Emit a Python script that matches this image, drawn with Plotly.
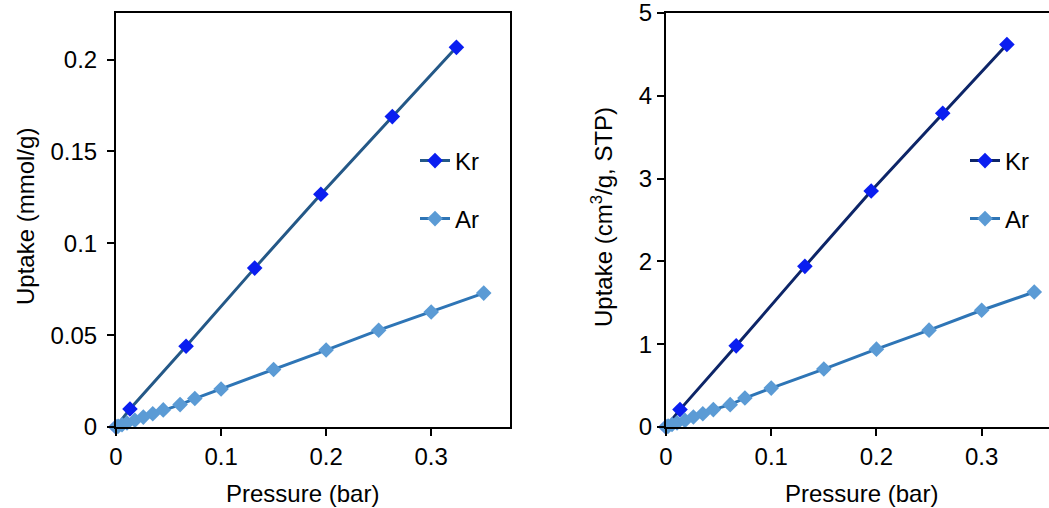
import plotly.graph_objects as go

# ---- data ----
kr_p = [0.0, 0.0133, 0.0667, 0.132, 0.195, 0.263, 0.324]
kr_mmol = [0.0, 0.0098, 0.0440, 0.0865, 0.1267, 0.1690, 0.2067]
ar_p = [0.0, 0.002, 0.0057, 0.0105, 0.018, 0.026, 0.035, 0.045, 0.061, 0.075,
        0.1, 0.15, 0.2, 0.25, 0.3, 0.35]
ar_mmol = [0.0, 0.0004, 0.0012, 0.0022, 0.0037, 0.0054, 0.0072, 0.0093, 0.0122,
           0.0155, 0.0207, 0.0313, 0.0419, 0.0527, 0.0626, 0.0729]
kr_cm3 = [0.0, 0.21, 0.98, 1.94, 2.85, 3.79, 4.62]
ar_cm3 = [0.0, 0.01, 0.03, 0.05, 0.08, 0.12, 0.16, 0.21, 0.27, 0.35,
          0.47, 0.70, 0.94, 1.17, 1.41, 1.63]

x_ticks = [0, 0.1, 0.2, 0.3]
x_ticklabels = ["0", "0.1", "0.2", "0.3"]
y1_ticks = [0, 0.05, 0.1, 0.15, 0.2]
y1_ticklabels = ["0", "0.05", "0.1", "0.15", "0.2"]
y2_ticks = [0, 1, 2, 3, 4, 5]
y2_ticklabels = ["0", "1", "2", "3", "4", "5"]

FONT = "Liberation Sans, Arial, sans-serif"
FS = 24
KR_MARK = "#0A1EF0"
KR_LINE1 = "#245887"
KR_LINE2 = "#0D2568"
AR_LINE = "#2E75B6"
AR_MARK = "#5B9BD5"

fig = go.Figure()
fig.add_trace(go.Scatter(x=kr_p, y=kr_mmol, name="Kr", mode="lines+markers",
                         line=dict(color=KR_LINE1, width=3),
                         marker=dict(symbol="diamond", size=12, color=KR_MARK),
                         cliponaxis=False, xaxis="x", yaxis="y", legend="legend"))
fig.add_trace(go.Scatter(x=ar_p, y=ar_mmol, name="Ar", mode="lines+markers",
                         line=dict(color=AR_LINE, width=3),
                         marker=dict(symbol="diamond", size=12, color=AR_MARK),
                         cliponaxis=False, xaxis="x", yaxis="y", legend="legend2"))
fig.add_trace(go.Scatter(x=kr_p, y=kr_cm3, name="Kr", mode="lines+markers",
                         line=dict(color=KR_LINE2, width=3),
                         marker=dict(symbol="diamond", size=12, color=KR_MARK),
                         cliponaxis=False, xaxis="x2", yaxis="y2", legend="legend3"))
fig.add_trace(go.Scatter(x=ar_p, y=ar_cm3, name="Ar", mode="lines+markers",
                         line=dict(color=AR_LINE, width=3),
                         marker=dict(symbol="diamond", size=12, color=AR_MARK),
                         cliponaxis=False, xaxis="x2", yaxis="y2", legend="legend4"))

W, H = 1049, 508
def px(x):
    return x / W
def py(y):
    return (H - y) / H

ydom = [py(427), py(13)]
axis_common = dict(showgrid=False, zeroline=False, showline=True, linecolor="black",
                   linewidth=2, ticks="outside", ticklen=7, tickwidth=2, tickcolor="black",
                   automargin=False, ticklabeloverflow="allow",
                   tickfont=dict(family=FONT, size=FS, color="black"))

legend_common = dict(font=dict(family=FONT, size=FS, color="black"),
                     bgcolor="rgba(0,0,0,0)", xanchor="left", yanchor="middle",
                     itemwidth=30)

fig.update_layout(
    width=W, height=H, margin=dict(l=0, r=0, t=0, b=0, pad=0, autoexpand=False),
    paper_bgcolor="white", plot_bgcolor="white", showlegend=True,
    xaxis=dict(domain=[px(116), px(510)], range=[0, 0.375], tickvals=x_ticks,
               ticktext=x_ticklabels, mirror=True, anchor="y", **axis_common),
    yaxis=dict(domain=ydom, range=[0, 0.2254], tickvals=y1_ticks,
               ticktext=y1_ticklabels, mirror=True, anchor="x",
               ticklabelstandoff=5, **axis_common),
    xaxis2=dict(domain=[px(666), 1.0], range=[0, 0.364], tickvals=x_ticks,
                ticktext=x_ticklabels, mirror=True, anchor="y2", **axis_common),
    yaxis2=dict(domain=ydom, range=[0, 5.0001], tickvals=y2_ticks,
                ticktext=y2_ticklabels, mirror=False, anchor="x2", **axis_common),
    legend=dict(x=px(415), y=py(161), **legend_common),
    legend2=dict(x=px(415), y=py(219), **legend_common),
    legend3=dict(x=px(965), y=py(161), **legend_common),
    legend4=dict(x=px(965), y=py(219), **legend_common),
    annotations=[
        dict(text="Pressure (bar)", x=px(302), y=py(493), xref="paper", yref="paper",
             xanchor="center", yanchor="middle", showarrow=False,
             font=dict(family=FONT, size=FS, color="black")),
        dict(text="Pressure (bar)", x=px(861), y=py(493), xref="paper", yref="paper",
             xanchor="center", yanchor="middle", showarrow=False,
             font=dict(family=FONT, size=FS, color="black")),
        dict(text="Uptake (mmol/g)", x=px(25), y=py(217), xref="paper", yref="paper",
             xanchor="center", yanchor="middle", showarrow=False, textangle=-90,
             font=dict(family=FONT, size=FS, color="black")),
        dict(text="Uptake (cm<sup>3</sup>/g, STP)", x=px(602), y=py(217), xref="paper",
             yref="paper", xanchor="center", yanchor="middle", showarrow=False,
             textangle=-90, font=dict(family=FONT, size=FS, color="black")),
    ],
)

fig.write_html("out.html")
